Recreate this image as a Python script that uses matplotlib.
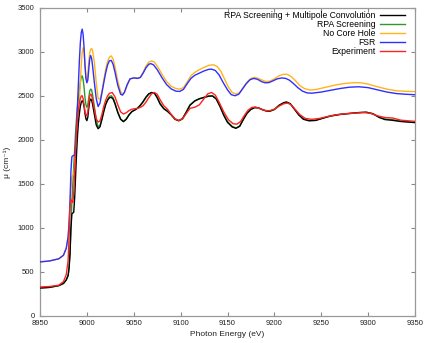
import matplotlib
matplotlib.use("Agg")
import matplotlib.pyplot as plt

plt.rcParams['font.family'] = ['Liberation Sans', 'DejaVu Sans']

# FSR (blue)
fsr_e = [8950, 8960, 8970, 8975, 8978, 8980, 8981, 8982, 8983, 8984, 8985, 8986, 8987, 8988,
         8989, 8990, 8991, 8992, 8993, 8994, 8995, 8996, 8997, 8998, 8999, 9000, 9001, 9002,
         9003, 9004, 9005, 9006, 9008, 9010, 9012, 9014, 9016, 9018, 9020, 9022, 9024, 9026,
         9028, 9030, 9033, 9036, 9038, 9040, 9043, 9046, 9050, 9054, 9057, 9060, 9063, 9066,
         9068, 9071, 9075, 9080, 9085, 9090, 9095, 9099, 9103, 9107, 9111, 9115, 9120, 9125,
         9130, 9133, 9137, 9141, 9145, 9150, 9154, 9158, 9162, 9166, 9170, 9174, 9178, 9182,
         9186, 9190, 9194, 9198, 9203, 9208, 9212, 9216, 9220, 9225, 9230, 9235, 9240, 9250,
         9260, 9270, 9280, 9290, 9300, 9310, 9320, 9330, 9340, 9350]
fsr_mu = [615, 625, 650, 690, 770, 900, 1050, 1300, 1650, 1810, 1820, 1825, 1830, 1950,
          2150, 2400, 2650, 2900, 3100, 3220, 3260, 3200, 3050, 2850, 2700, 2650, 2680, 2800,
          2920, 2960, 2930, 2850, 2650, 2470, 2380, 2420, 2530, 2650, 2760, 2850, 2900, 2905,
          2860, 2770, 2620, 2520, 2510, 2540, 2630, 2695, 2705, 2700, 2710, 2760, 2820, 2860,
          2868, 2855, 2800, 2710, 2630, 2580, 2555, 2552, 2575, 2640, 2700, 2735, 2760, 2785,
          2803, 2805, 2790, 2740, 2660, 2570, 2515, 2503, 2520, 2580, 2640, 2685, 2700, 2690,
          2665, 2650, 2652, 2670, 2695, 2705, 2700, 2680, 2645, 2595, 2555, 2535, 2532, 2545,
          2565, 2585, 2600, 2605, 2595, 2570, 2545, 2528, 2520, 2514]

# No Core Hole (orange)
nch_e = [8950, 8960, 8970, 8975, 8978, 8980, 8981, 8982, 8983, 8984, 8985, 8986, 8987, 8988,
         8989, 8990, 8991, 8992, 8993, 8994, 8995, 8996, 8997, 8998, 8999, 9000, 9001, 9002,
         9003, 9004, 9005, 9006, 9008, 9010, 9012, 9014, 9016, 9018, 9020, 9022, 9024, 9026,
         9028, 9030, 9033, 9036, 9038, 9040, 9043, 9046, 9050, 9054, 9057, 9060, 9063, 9066,
         9069, 9072, 9075, 9080, 9085, 9090, 9095, 9099, 9103, 9107, 9111, 9115, 9120, 9125,
         9130, 9135, 9139, 9143, 9147, 9151, 9155, 9159, 9163, 9167, 9171, 9175, 9179, 9183,
         9187, 9191, 9195, 9200, 9205, 9210, 9214, 9218, 9222, 9227, 9232, 9238, 9245, 9255,
         9265, 9275, 9285, 9292, 9300, 9310, 9320, 9330, 9340, 9350]
nch_mu = [615, 625, 650, 690, 770, 900, 1050, 1250, 1450, 1580, 1600, 1610, 1700, 1850,
          2000, 2150, 2300, 2450, 2650, 2850, 3000, 3050, 3000, 2850, 2700, 2680, 2750, 2880,
          2990, 3030, 3040, 3020, 2880, 2650, 2470, 2465, 2550, 2680, 2800, 2890, 2940, 2956,
          2920, 2830, 2670, 2550, 2522, 2540, 2620, 2690, 2710, 2705, 2712, 2770, 2840, 2885,
          2899, 2885, 2840, 2750, 2665, 2610, 2585, 2578, 2595, 2660, 2730, 2768, 2800, 2825,
          2848, 2855, 2835, 2780, 2690, 2600, 2540, 2522, 2540, 2600, 2660, 2700, 2712, 2700,
          2680, 2665, 2668, 2695, 2730, 2748, 2745, 2720, 2680, 2620, 2585, 2567, 2575, 2600,
          2625, 2642, 2652, 2650, 2635, 2605, 2578, 2560, 2553, 2550]

# RPA Screening (green)
rpa_e = [8950, 8960, 8970, 8975, 8978, 8980, 8981, 8982, 8983, 8984, 8985, 8986, 8987, 8988,
         8989, 8990, 8991, 8992, 8993, 8994, 8995, 8996, 8997, 8998, 8999, 9000, 9001, 9002,
         9003, 9004, 9005, 9006, 9008, 9010, 9012, 9014, 9016, 9018, 9020, 9022, 9024, 9026,
         9028, 9030, 9033, 9036, 9039, 9042, 9045, 9048, 9051, 9054, 9057, 9060, 9063, 9066,
         9069, 9072, 9075, 9078, 9082, 9086, 9090, 9094, 9098, 9102, 9106, 9110, 9115, 9120,
         9125, 9130, 9134, 9138, 9142, 9146, 9150, 9155, 9159, 9163, 9167, 9171, 9175, 9179,
         9183, 9187, 9191, 9195, 9200, 9205, 9210, 9213, 9217, 9221, 9226, 9231, 9237, 9244,
         9252, 9260, 9270, 9280, 9290, 9298, 9305, 9312, 9318, 9325, 9335, 9350]
rpa_mu = [318, 325, 345, 370, 410, 460, 560, 720, 1000, 1300, 1500, 1700, 1900, 2100,
          2250, 2380, 2480, 2560, 2650, 2720, 2729, 2690, 2600, 2480, 2400, 2371, 2400, 2480,
          2555, 2578, 2570, 2520, 2380, 2230, 2150, 2165, 2250, 2340, 2410, 2460, 2495, 2503,
          2480, 2420, 2320, 2240, 2212, 2240, 2290, 2325, 2340, 2360, 2390, 2430, 2480, 2520,
          2538, 2535, 2490, 2420, 2360, 2330, 2290, 2240, 2222, 2245, 2320, 2400, 2446, 2470,
          2485, 2500, 2503, 2470, 2390, 2290, 2210, 2155, 2137, 2160, 2240, 2310, 2350, 2370,
          2365, 2345, 2330, 2326, 2345, 2390, 2420, 2428, 2410, 2360, 2290, 2240, 2222, 2225,
          2250, 2275, 2292, 2300, 2310, 2314, 2300, 2260, 2238, 2232, 2215, 2200]

# RPA Screening + Multipole Convolution (black)
mpc_e = [8950, 8960, 8970, 8975, 8978, 8980, 8981, 8982, 8983, 8984, 8985, 8986, 8987, 8988,
         8989, 8990, 8991, 8992, 8993, 8994, 8995, 8996, 8997, 8998, 8999, 9000, 9001, 9002,
         9003, 9004, 9005, 9006, 9008, 9010, 9012, 9014, 9016, 9018, 9020, 9022, 9024, 9026,
         9028, 9030, 9033, 9036, 9039, 9042, 9045, 9048, 9051, 9054, 9057, 9060, 9063, 9066,
         9069, 9072, 9075, 9078, 9082, 9086, 9090, 9094, 9098, 9102, 9106, 9110, 9115, 9120,
         9125, 9130, 9134, 9138, 9142, 9146, 9150, 9155, 9159, 9163, 9167, 9171, 9175, 9179,
         9183, 9187, 9191, 9195, 9200, 9205, 9210, 9213, 9217, 9221, 9226, 9231, 9237, 9244,
         9252, 9260, 9270, 9280, 9290, 9298, 9305, 9312, 9318, 9325, 9335, 9350]
mpc_mu = [318, 325, 345, 370, 410, 460, 540, 700, 1000, 1160, 1170, 1180, 1350, 1600,
          1850, 2050, 2200, 2300, 2380, 2430, 2446, 2430, 2380, 2300, 2240, 2220, 2260, 2360,
          2440, 2465, 2455, 2410, 2290, 2170, 2128, 2150, 2230, 2320, 2400, 2450, 2480, 2485,
          2465, 2410, 2310, 2235, 2208, 2235, 2285, 2322, 2340, 2362, 2395, 2438, 2488, 2525,
          2540, 2532, 2480, 2410, 2355, 2325, 2285, 2235, 2218, 2240, 2315, 2395, 2442, 2468,
          2484, 2498, 2500, 2465, 2380, 2280, 2200, 2148, 2133, 2155, 2235, 2305, 2348, 2368,
          2365, 2346, 2332, 2328, 2348, 2395, 2425, 2432, 2412, 2355, 2285, 2235, 2218, 2222,
          2248, 2272, 2290, 2302, 2312, 2316, 2298, 2255, 2232, 2225, 2210, 2198]

# Experiment (red)
exp_e = [8950, 8960, 8970, 8975, 8978, 8980, 8981, 8982, 8983, 8984, 8985, 8986, 8987, 8988,
         8989, 8990, 8991, 8992, 8993, 8994, 8995, 8996, 8997, 8998, 8999, 9000, 9001, 9002,
         9003, 9004, 9005, 9006, 9008, 9010, 9012, 9014, 9016, 9018, 9020, 9022, 9024, 9027,
         9030, 9033, 9036, 9039, 9042, 9045, 9048, 9051, 9054, 9057, 9060, 9063, 9066, 9069,
         9072, 9075, 9078, 9082, 9086, 9090, 9094, 9098, 9102, 9106, 9110, 9115, 9120, 9125,
         9129, 9133, 9137, 9141, 9146, 9151, 9156, 9160, 9164, 9168, 9172, 9176, 9180, 9185,
         9190, 9195, 9200, 9205, 9210, 9214, 9218, 9222, 9227, 9233, 9240, 9248, 9256, 9265,
         9275, 9285, 9295, 9302, 9310, 9318, 9326, 9335, 9350]
exp_mu = [330, 335, 350, 390, 470, 630, 900, 1250, 1320, 1310, 1290, 1400, 1650, 1900,
          2100, 2250, 2350, 2420, 2470, 2500, 2503, 2470, 2400, 2320, 2285, 2276, 2320, 2420,
          2500, 2522, 2510, 2460, 2350, 2240, 2205, 2215, 2290, 2380, 2450, 2500, 2530, 2540,
          2490, 2400, 2320, 2295, 2310, 2335, 2350, 2355, 2360, 2370, 2390, 2430, 2480, 2525,
          2540, 2520, 2460, 2390, 2350, 2290, 2240, 2222, 2240, 2300, 2360, 2372, 2400, 2470,
          2525, 2540, 2510, 2430, 2320, 2230, 2185, 2180, 2210, 2280, 2340, 2370, 2375, 2355,
          2335, 2333, 2350, 2385, 2412, 2420, 2400, 2350, 2290, 2245, 2235, 2245, 2265, 2285,
          2298, 2305, 2312, 2305, 2275, 2255, 2250, 2225, 2212]

fig = plt.figure(figsize=(4.29, 3.43), dpi=100)
ax = fig.add_axes([40 / 429, 27 / 343, 375 / 429, 308 / 343])

lw = 1.0
ax.plot(mpc_e, mpc_mu, color='#000000', lw=lw, label='RPA Screening + Multipole Convolution', zorder=3)
ax.plot(rpa_e, rpa_mu, color='#2e9a2e', lw=lw, label='RPA Screening', zorder=2)
ax.plot(nch_e, nch_mu, color='#ffb41e', lw=lw, label='No Core Hole', zorder=2)
ax.plot(fsr_e, fsr_mu, color='#2f2fff', lw=lw, label='FSR', zorder=3)
ax.plot(exp_e, exp_mu, color='#ff2222', lw=lw, label='Experiment', zorder=4)

ax.set_xlim(8950, 9350)
ax.set_ylim(0, 3500)
ax.set_xticks(range(8950, 9351, 50))
ax.set_yticks(range(0, 3501, 500))
ax.tick_params(direction='in', top=True, right=True, length=3, width=0.8,
               color='#888888', labelsize=5.5, labelcolor='#222222')
ax.tick_params(axis='x', pad=3)
ax.tick_params(axis='y', pad=4)
for s in ax.spines.values():
    s.set_color('#999999')
    s.set_linewidth(0.9)

ax.set_xlabel('Photon Energy (eV)', fontsize=6, color='#222222', labelpad=3)
ax.set_ylabel('μ (cm⁻¹)', fontsize=6, color='#222222', labelpad=5)

# gnuplot-style key: right-aligned text followed by the line sample
ax.legend(loc='upper right', frameon=False, markerfirst=False, fontsize=6.2,
          handlelength=2.9, handletextpad=0.5, labelspacing=0.0,
          borderpad=0.2, borderaxespad=0.0, bbox_to_anchor=(0.978, 0.995))

fig.savefig('out.png', dpi=100)
